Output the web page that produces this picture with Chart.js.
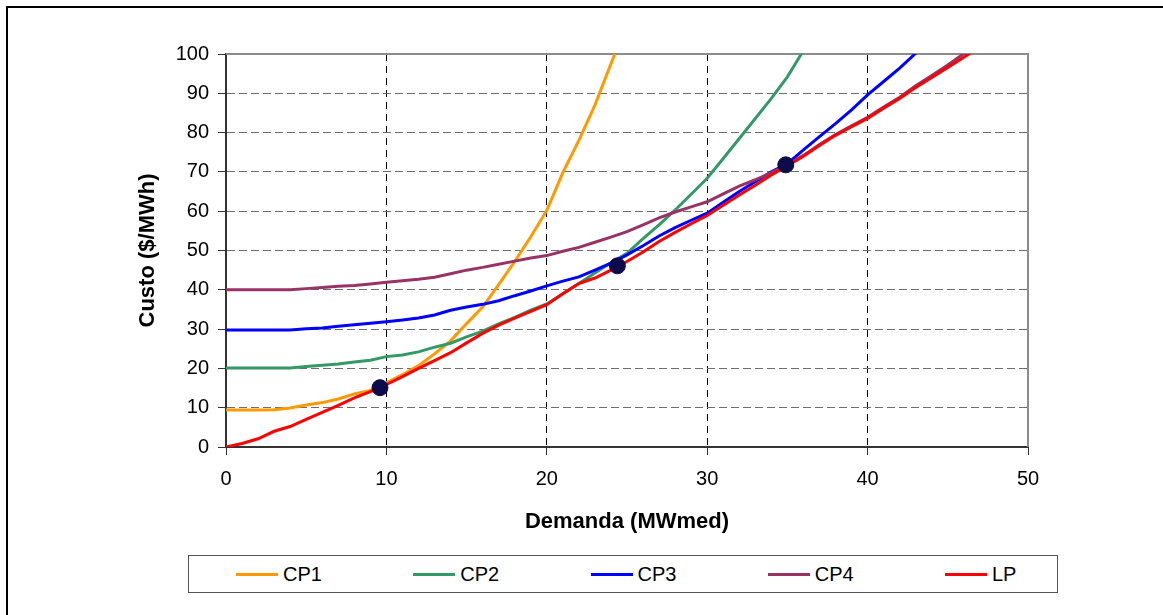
<!DOCTYPE html>
<html>
<head>
<meta charset="utf-8">
<script src="https://cdn.jsdelivr.net/npm/chart.js@4/dist/chart.umd.min.js"></script>
<style>
    body { margin: 0; background: #fff; font-family: "Liberation Sans", Arial, sans-serif; }
    #wrap { position: relative; width: 1163px; height: 615px; overflow: hidden; }
    #frame { position: absolute; left: 6px; top: 6px; width: 1200px; height: 700px; border-left: 2px solid #000; border-top: 2px solid #000; }
    #legend { position: absolute; left: 188px; top: 555px; width: 868px; height: 36px; border: 1px solid #555; background: #fff; }
    .item { position: absolute; top: 0; height: 36px; display: flex; align-items: center; font-size: 20px; color: #000; }
    .swatch { width: 42px; height: 3px; margin-right: 5px; }
</style>
</head>
<body>
<div id="wrap">
    <div id="frame"></div>
    <canvas id="costChart" width="1163" height="615"></canvas>
    <div id="legend"></div>
</div>
<script>
// Demanda (MWmed) e custo ($/MWh) de cada curva
const demanda = [0, 1, 2, 3, 4, 5, 6, 7, 8, 9, 10, 11, 12, 13, 14, 15, 16, 17, 18, 19, 20, 21, 22, 23, 24,
    25, 26, 27, 28, 29, 30, 31, 32, 33, 34, 35, 36, 37, 38, 39, 40, 41, 42, 43, 44, 45, 46, 47];

const cp1 = [9.4, 9.4, 9.4, 9.5, 9.9, 10.7, 11.3, 12.2, 13.5, 14.4, 16.3, 18.4, 20.7, 23.7, 27.0, 31.4, 35.6, 41.3,
    47.2, 53.5, 60.2, 69.8, 78.0, 87.0, 97.5, 108.0];
const cp2 = [20.1, 20.1, 20.1, 20.1, 20.1, 20.5, 20.8, 21.1, 21.6, 22.1, 23.0, 23.4, 24.2, 25.4, 26.4, 28.0, 29.5,
    31.3, 33.0, 34.8, 36.4, 39.0, 41.6, 44.3, 46.9, 49.3, 53.0, 56.5, 60.3, 64.3, 68.4, 73.4, 78.5, 83.6, 88.7, 94.2, 100.9];
const cp3 = [29.8, 29.8, 29.8, 29.8, 29.8, 30.1, 30.3, 30.7, 31.1, 31.5, 31.9, 32.3, 32.8, 33.6, 34.8, 35.6, 36.3,
    37.2, 38.5, 39.7, 41.0, 42.2, 43.3, 45.0, 46.8, 48.9, 51.2, 53.7, 55.8, 57.7, 59.5, 62.3, 65.0, 67.5, 70.0, 72.1,
    75.6, 79.0, 82.3, 85.8, 89.6, 93.0, 96.4, 100.2];
const cp4 = [40.0, 40.0, 40.0, 40.0, 40.0, 40.3, 40.6, 40.9, 41.1, 41.5, 41.9, 42.3, 42.7, 43.2, 44.1, 45.0, 45.7,
    46.5, 47.3, 48.1, 48.7, 49.8, 50.8, 52.1, 53.4, 54.8, 56.5, 58.3, 59.8, 61.1, 62.4, 64.4, 66.4, 68.0, 69.8, 71.8,
    74.2, 77.0, 79.5, 81.7, 83.9, 86.5, 89.0, 91.9, 94.5, 97.2, 100.1, 103.0];
const lp = [0.0, 0.9, 2.1, 4.0, 5.2, 7.0, 8.8, 10.6, 12.5, 14.1, 15.9, 17.9, 20.0, 22.0, 24.0, 26.5, 28.9, 31.0,
    32.8, 34.5, 36.2, 39.0, 41.6, 43.0, 45.0, 47.2, 49.6, 52.3, 54.6, 56.8, 58.9, 61.5, 64.1, 66.6, 69.2, 71.6, 74.0,
    76.7, 79.3, 81.5, 83.6, 86.2, 88.7, 91.5, 94.0, 96.6, 99.2, 101.8];

// pontos de encontro
const pontoX = [9.6, 24.4, 34.9];
const pontoY = [15.1, 46.1, 71.8];

const xTicks = [0, 10, 20, 30, 40, 50];
const yTicks = [0, 10, 20, 30, 40, 50, 60, 70, 80, 90, 100];

function toPoints(values) {
    return values.map((v, i) => ({ x: demanda[i], y: v }));
}

function lineSet(label, values, color, order) {
    return {
        label: label,
        data: toPoints(values),
        borderColor: color,
        backgroundColor: color,
        borderWidth: 3,
        pointRadius: 0,
        tension: 0,
        order: order
    };
}

Chart.defaults.font.family = '"Liberation Sans", Arial, sans-serif';
Chart.defaults.color = '#000';

// linhas solidas cinza no topo e na direita da area do grafico
const plotFrame = {
    id: 'plotFrame',
    beforeDatasetsDraw(chart) {
        const { ctx, chartArea: a } = chart;
        ctx.save();
        ctx.strokeStyle = '#8c8c8c';
        ctx.lineWidth = 2;
        ctx.beginPath();
        ctx.moveTo(a.left, a.top);
        ctx.lineTo(a.right, a.top);
        ctx.lineTo(a.right, a.bottom);
        ctx.stroke();
        ctx.restore();
    }
};

const datasets = [
    {
        label: 'pontos',
        type: 'scatter',
        data: pontoX.map((x, i) => ({ x: x, y: pontoY[i] })),
        pointRadius: 8,
        pointBackgroundColor: '#0c0c4a',
        pointBorderColor: '#0c0c4a',
        showLine: false,
        order: 0
    },
    lineSet('CP1', cp1, '#ff9900', 5),
    lineSet('CP2', cp2, '#339966', 4),
    lineSet('CP3', cp3, '#0000ff', 3),
    lineSet('CP4', cp4, '#993366', 2),
    lineSet('LP', lp, '#ff0000', 1)
];

const ctx = document.getElementById('costChart').getContext('2d');
const costChart = new Chart(ctx, {
    type: 'line',
    data: { datasets: datasets },
    options: {
        responsive: false,
        animation: false,
        devicePixelRatio: 1,
        layout: { padding: { left: 0, right: 135, top: 54, bottom: 68 } },
        plugins: {
            legend: { display: false },
            tooltip: { enabled: false }
        },
        scales: {
            x: {
                type: 'linear',
                min: 0,
                max: 50,
                afterBuildTicks: scale => { scale.ticks = xTicks.map(v => ({ value: v })); },
                afterFit: scale => { scale.height = 100; },
                ticks: { font: { size: 20 }, padding: 12, color: '#000' },
                grid: {
                    color: '#000',
                    lineWidth: 1,
                    tickLength: 8,
                    tickColor: '#333',
                    tickBorderDash: []
                },
                border: { color: '#333', width: 2, dash: [7, 5] },
                title: {
                    display: true,
                    text: 'Demanda (MWmed)',
                    font: { size: 22, weight: 'bold' },
                    color: '#000',
                    padding: { top: 0, bottom: 12 }
                }
            },
            y: {
                min: 0,
                max: 100,
                afterBuildTicks: scale => { scale.ticks = yTicks.map(v => ({ value: v })); },
                afterFit: scale => { scale.width = 226; },
                ticks: { font: { size: 20 }, padding: 9, color: '#000' },
                grid: {
                    color: '#6e6e6e',
                    lineWidth: 1,
                    tickLength: 8,
                    tickColor: '#333',
                    tickBorderDash: []
                },
                border: { color: '#333', width: 2, dash: [8, 4] },
                title: {
                    display: true,
                    text: 'Custo ($/MWh)',
                    font: { size: 22, weight: 'bold' },
                    color: '#000',
                    padding: { top: 135, bottom: 0 }
                }
            }
        }
    },
    plugins: [plotFrame]
});

// legenda em caixa, como no original
const legendBox = document.getElementById('legend');
costChart.data.datasets
    .filter(ds => ds.label !== 'pontos')
    .forEach((ds, i) => {
        const item = document.createElement('div');
        item.className = 'item';
        item.style.left = (47 + i * 177.25) + 'px';
        item.innerHTML = `<span class="swatch" style="background:${ds.borderColor}"></span>${ds.label}`;
        legendBox.appendChild(item);
    });
</script>
</body>
</html>
